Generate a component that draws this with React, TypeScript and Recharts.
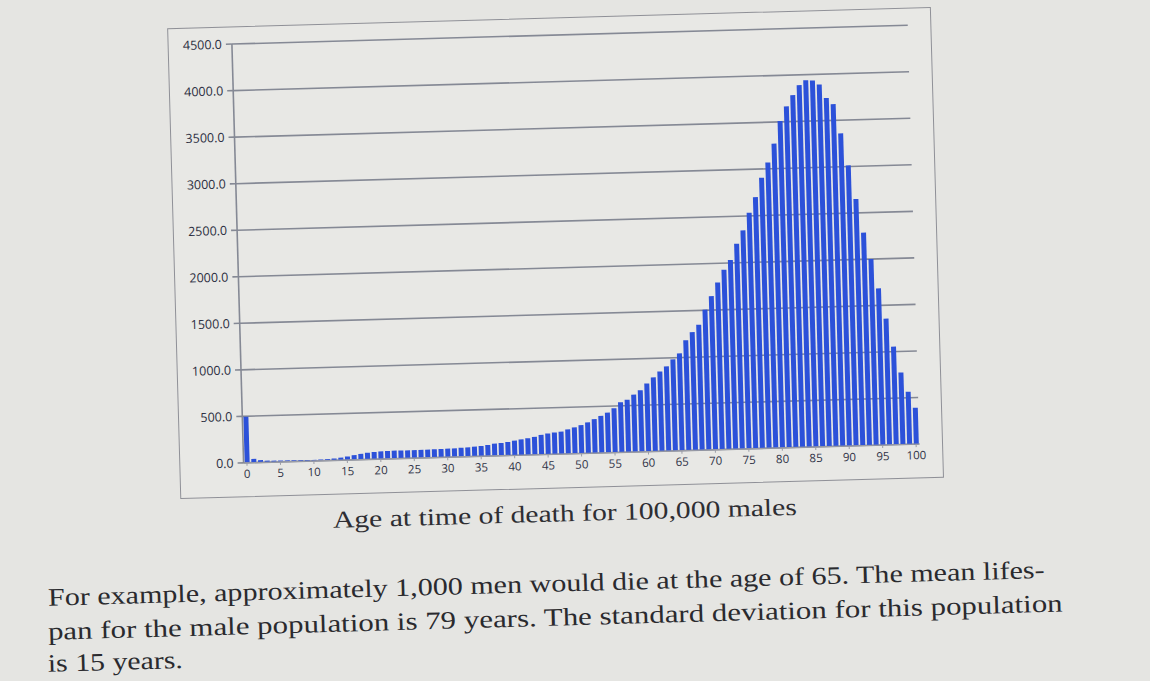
import React from "react";
import { BarChart, Bar, XAxis, YAxis, CartesianGrid } from "recharts";

// deaths per age (0..100)
const deaths = [
  495, 40, 25, 18, 16, 15, 14, 13, 12, 12,
  12, 13, 15, 20, 28, 38, 50, 62, 72, 78,
  82, 85, 86, 86, 86, 86, 87, 88, 89, 90,
  92, 93, 98, 100, 105, 110, 119, 131, 137, 145,
  158, 170, 179, 192, 211, 224, 233, 241, 262, 282,
  305, 332, 365, 397, 431, 476, 538, 563, 616, 661,
  732, 795, 856, 909, 983, 1045, 1184, 1270, 1347, 1507,
  1650, 1795, 1930, 2032, 2205, 2346, 2534, 2700, 2906, 3068,
  3268, 3510, 3665, 3784, 3889, 3940, 3935, 3890, 3743, 3675,
  3359, 3013, 2650, 2286, 2001, 1684, 1357, 1054, 773, 565,
  391,
];

const yTicks = [0, 500, 1000, 1500, 2000, 2500, 3000, 3500, 4000, 4500];

const title = "Age at time of death for 100,000 males";
const paragraph = [
  "For example, approximately 1,000 men would die at the age of 65. The mean lifes-",
  "pan for the male population is 79 years. The standard deviation for this population",
  "is 15 years.",
];

const data = deaths.map((v, i) => ({ age: i, deaths: v }));

const serif = "'Liberation Serif', 'DejaVu Serif', serif";
const sans = "'Open Sans', 'Liberation Sans', sans-serif";

export default function App() {
  return (
    <div
      style={{
        position: "absolute",
        left: 0,
        top: 0,
        width: 1150,
        height: 681,
        background: "#e5e5e2",
        overflow: "hidden",
      }}
    >
      <div
        style={{
          position: "absolute",
          left: 0,
          top: 0,
          width: 1150,
          height: 681,
          transform: "rotate(-1.6deg)",
          transformOrigin: "575px 340px",
        }}
      >
        <div
          style={{
            position: "absolute",
            left: 176,
            top: 17,
            width: 764,
            height: 471,
            border: "1.5px solid #8f9097",
            background: "#e8e8e5",
            boxSizing: "border-box",
          }}
        />
        <div style={{ position: "absolute", left: 0, top: 0 }}>
          <BarChart
            width={1150}
            height={500}
            data={data}
            margin={{ top: 34.6, right: 233.6, bottom: 16.4, left: 180.3 }}
            barCategoryGap="16%"
          >
            <CartesianGrid
              vertical={false}
              stroke="#858995"
              strokeWidth={1.6}
            />
            <XAxis
              dataKey="age"
              interval={4}
              height={30}
              tickSize={3}
              tickMargin={4}
              axisLine={{ stroke: "#9a9ca6", strokeWidth: 1.2 }}
              tickLine={{ stroke: "#9a9ca6" }}
              tick={{ fill: "#2f3246", fontSize: 11.5, fontFamily: sans }}
            />
            <YAxis
              width={60}
              domain={[0, 4500]}
              ticks={yTicks}
              tickFormatter={(v: number) => v.toFixed(1)}
              tickSize={6}
              tickMargin={4}
              axisLine={{ stroke: "#858995", strokeWidth: 1.6 }}
              tickLine={{ stroke: "#858995", strokeWidth: 1.6 }}
              tick={{ fill: "#2a2d40", fontSize: 12.5, fontFamily: sans }}
            />
            <Bar
              dataKey="deaths"
              fill="#2c51d9"
              isAnimationActive={false}
            />
          </BarChart>
        </div>
        <svg
          width={1150}
          height={681}
          style={{ position: "absolute", left: 0, top: 0, pointerEvents: "none" }}
        >
          <text
            x={328}
            y={521}
            fontSize={24}
            fontFamily={serif}
            fill="#2e2e33"
            textLength={464}
            lengthAdjust="spacingAndGlyphs"
          >
            {title}
          </text>
          <text
            x={41}
            y={591}
            fontSize={25}
            fontFamily={serif}
            fill="#2a2a2e"
            textLength={997}
            lengthAdjust="spacingAndGlyphs"
          >
            {paragraph[0]}
          </text>
          <text
            x={40}
            y={625}
            fontSize={25}
            fontFamily={serif}
            fill="#2a2a2e"
            textLength={1015}
            lengthAdjust="spacingAndGlyphs"
          >
            {paragraph[1]}
          </text>
          <text
            x={39}
            y={657}
            fontSize={25}
            fontFamily={serif}
            fill="#2a2a2e"
            textLength={135}
            lengthAdjust="spacingAndGlyphs"
          >
            {paragraph[2]}
          </text>
        </svg>
      </div>
    </div>
  );
}
